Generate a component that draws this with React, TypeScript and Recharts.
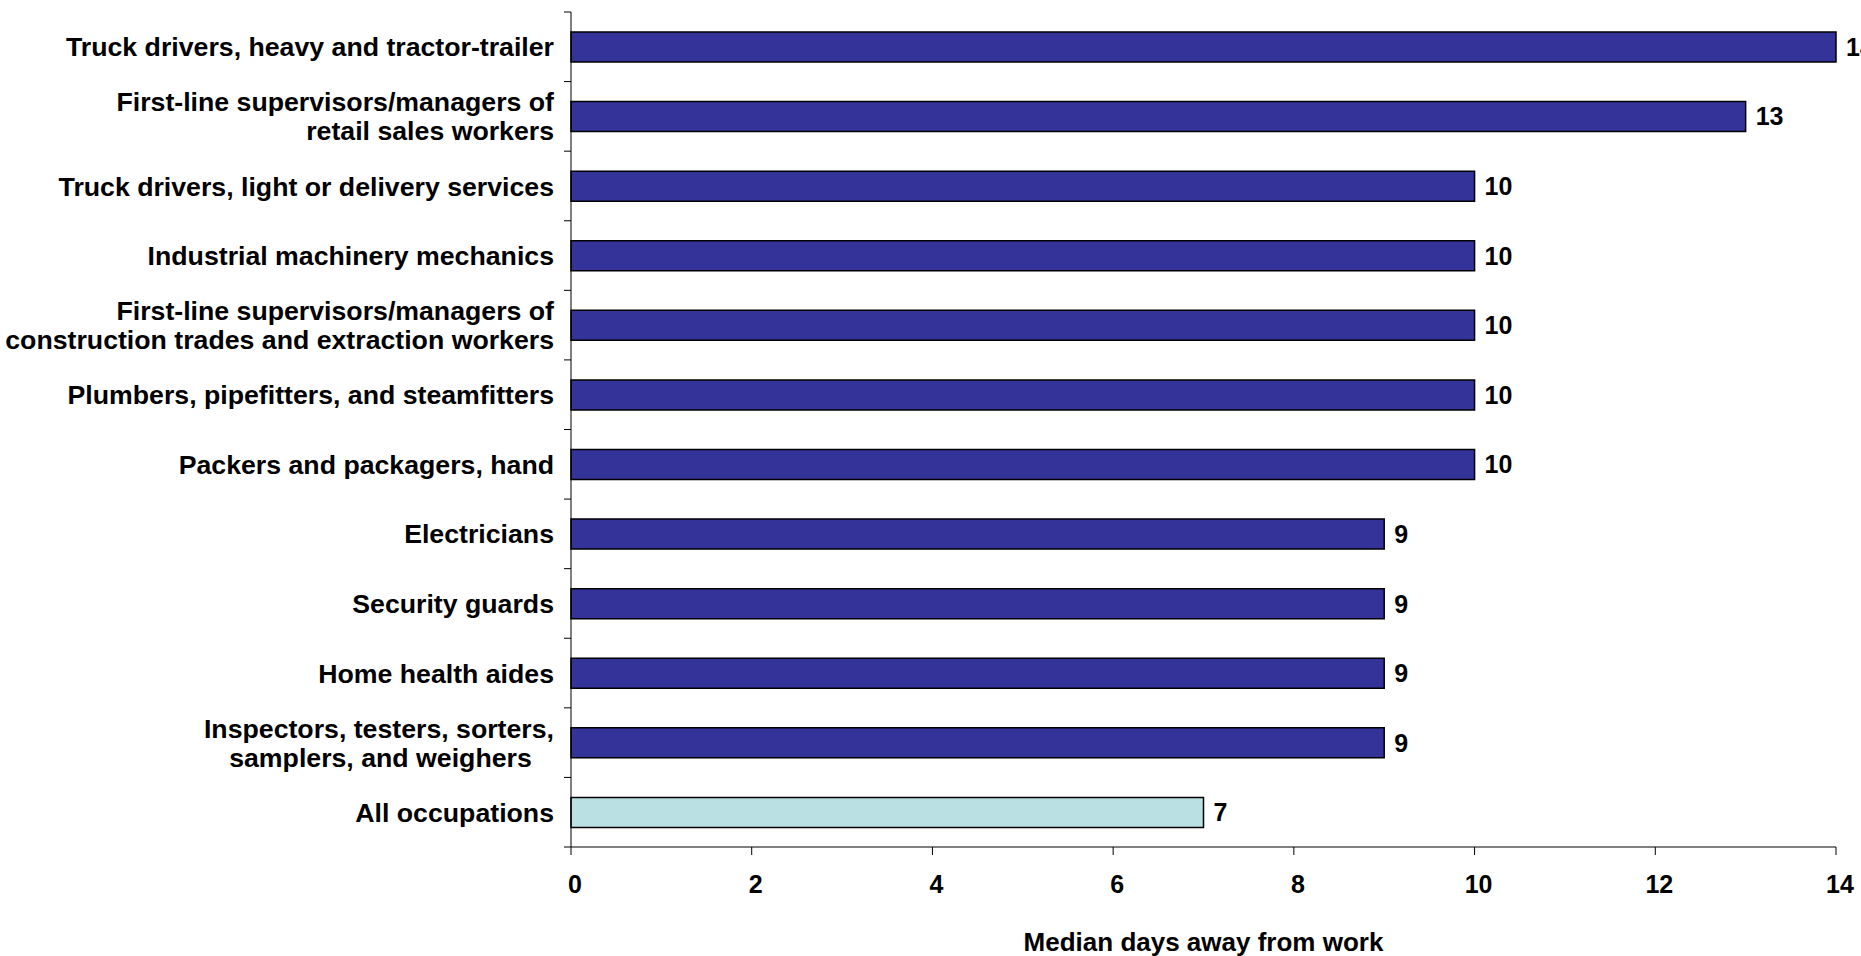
import React from 'react';
import { BarChart, Bar, XAxis, YAxis, Cell, LabelList } from 'recharts';

const CATEGORIES = [
  'Truck drivers, heavy and tractor-trailer',
  'First-line supervisors/managers of\nretail sales workers',
  'Truck drivers, light or delivery services',
  'Industrial machinery mechanics',
  'First-line supervisors/managers of\nconstruction trades and extraction workers',
  'Plumbers, pipefitters, and steamfitters',
  'Packers and packagers, hand',
  'Electricians',
  'Security guards',
  'Home health aides',
  'Inspectors, testers, sorters,\nsamplers, and weighers\u00a0\u00a0\u00a0',
  'All occupations',
];

const MEDIAN_DAYS = [14, 13, 10, 10, 10, 10, 10, 9, 9, 9, 9, 7];

const X_TICKS = [0, 2, 4, 6, 8, 10, 12, 14];

const data = CATEGORIES.map((name, i) => ({ name, days: MEDIAN_DAYS[i] }));

const W = 1861;
const H = 956;
const TOP = 12;
const BOTTOM = 79;
const X_AXIS_H = 30;
const BAND = (H - TOP - BOTTOM - X_AXIS_H) / CATEGORIES.length;

const FONT = '"Liberation Sans", Arial, sans-serif';

const CategoryTick = (props: any) => {
  const { x, y, payload, index } = props;
  const lines = String(payload.value).split('\n');
  const lineH = 29;
  const first = y - ((lines.length - 1) * lineH) / 2;
  const axisX = x + 17;
  return (
    <g>
      <line x1={axisX - 7} x2={axisX} y1={y - BAND / 2} y2={y - BAND / 2} stroke="#000" />
      {index === CATEGORIES.length - 1 && (
        <line x1={axisX - 7} x2={axisX} y1={y + BAND / 2} y2={y + BAND / 2} stroke="#000" />
      )}
      <text
        x={x}
        textAnchor="end"
        fontFamily={FONT}
        fontWeight="bold"
        fontSize={26.7}
        fill="#000"
      >
        {lines.map((l, i) => (
          <tspan key={i} x={x} y={first + i * lineH} dy="0.36em">
            {l}
          </tspan>
        ))}
      </text>
    </g>
  );
};

export default function App() {
  return (
    <div style={{ position: 'absolute', left: 0, top: 0, width: W, height: H, background: '#fff' }}>
      <BarChart
        width={W}
        height={H}
        layout="vertical"
        data={data}
        margin={{ top: TOP, right: 25, left: 0, bottom: BOTTOM }}
        barCategoryGap={0}
      >
        <XAxis
          type="number"
          domain={[0, 14]}
          ticks={X_TICKS}
          height={X_AXIS_H}
          tickSize={8}
          tickMargin={20}
          stroke="#000"
          axisLine={{ stroke: '#000' }}
          tickLine={{ stroke: '#000' }}
          tick={{ fontFamily: FONT, fontWeight: 'bold', fontSize: 25, fill: '#000', dx: 4 }}
          label={{
            value: 'Median days away from work',
            position: 'bottom',
            offset: 56,
            style: { fontFamily: FONT, fontWeight: 'bold', fontSize: 26, fill: '#000', textAnchor: 'middle' },
          }}
        />
        <YAxis
          type="category"
          dataKey="name"
          width={571}
          tickSize={7}
          tickMargin={10}
          tickLine={false}
          axisLine={{ stroke: '#000' }}
          interval={0}
          tick={<CategoryTick />}
        />
        <Bar dataKey="days" barSize={30} stroke="#000" strokeWidth={1.5} isAnimationActive={false}>
          {data.map((d, i) => (
            <Cell key={`cell-${i}`} fill={d.name === 'All occupations' ? '#BBE0E3' : '#333399'} />
          ))}
          <LabelList
            dataKey="days"
            position="right"
            offset={10}
            style={{ fontFamily: FONT, fontWeight: 'bold', fontSize: 25, fill: '#000' }}
            stroke="none"
          />
        </Bar>
      </BarChart>
    </div>
  );
}
